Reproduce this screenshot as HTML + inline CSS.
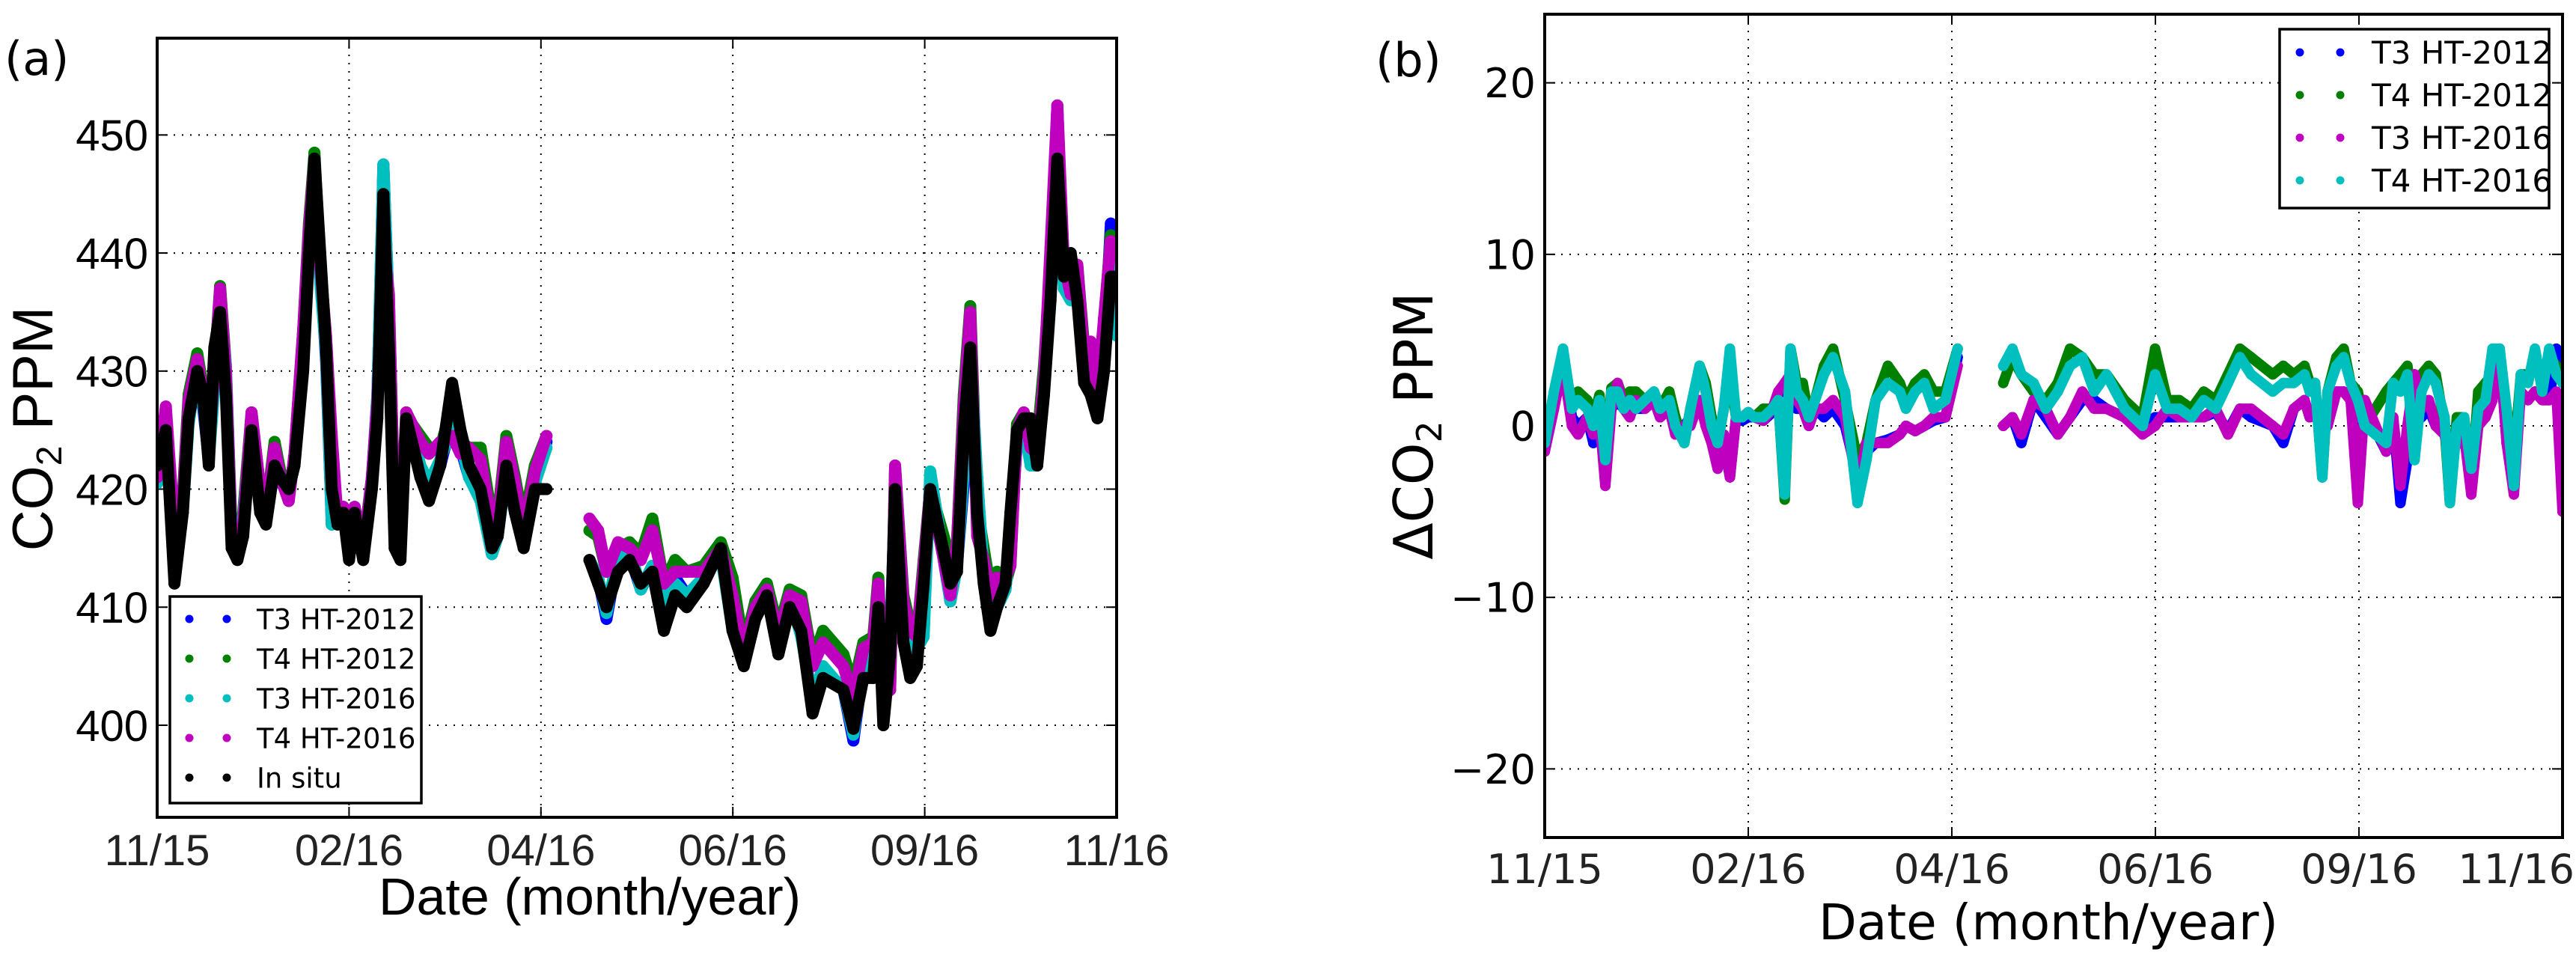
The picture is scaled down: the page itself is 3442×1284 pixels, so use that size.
<!DOCTYPE html>
<html><head><meta charset="utf-8"><style>
html,body{margin:0;padding:0;background:#fff;}
svg{display:block;}
</style></head><body>
<svg id="fig" width="3442" height="1284" viewBox="0 0 3442 1284" xmlns="http://www.w3.org/2000/svg">
<defs>
<clipPath id="clipA"><rect x="210" y="51" width="1282" height="1041"/></clipPath>
<clipPath id="clipB"><rect x="2064" y="19" width="1360" height="1100"/></clipPath>
</defs>
<g id="gA"></g>
<g id="gB"></g>
</svg>
<script>
// ---- data (days since 2015-11-01) ----
const days = [0,3.3,6.6,9.8,12,15.3,17.5,19.7,21.8,24,26.2,28.4,30.6,32.8,36,39.3,41.5,44.8,47,50.2,52.4,55.7,57.9,60,62.2,64.4,66.6,68.8,71,73.2,75.3,78.6,81.9,84,86.3,88.4,90.6,92.8,95,97.2,100.4,103.7,108,112.5,115.7,119,123.4,127.7,129.9,133.2,136.5,139.8,144.1,148.5,164.9,168.2,171.4,175.8,180.2,184.5,188.9,193.3,197.6,202,208.5,215,219.5,223.8,228.2,232.6,237,241.3,245.7,250,254,261.8,265.6,269.4,273.2,275.1,277,279.6,281.5,284.7,287.3,289.8,292.4,294.9,302.6,305.1,307.7,310.2,312.8,315.3,317.9,320.4,323.6,325.5,328,330.6,333.2,335.7,338.3,340.8,343.4,345.9,348.5,351,353.6,356.1,358.7,361.2,363.8,366];
const inSitu = [422,425,412,418,426,430,428,422,432,435,428,415,414,416,425,418,417,422,421,420,422,430,440,448,440,432,420,417,418,414,418,414,420,426,445,432,415,414,426,424,421,419,422,429,425,422,420,415,416,422,418,415,420,420,414,412,410,413,414,412,413,408,411,410,412,415,408,405,409,411,406,410,408,401,404,403,399.7,404,404,410,400,406,420,407,404,405,412,420,412,413,425,432,418,412,408,410,412,418,425,426,426,422,428,436,448,438,440,436,429,428,426,430,438,438];
const dT4_2016 = [-1,2,4.5,1,1.5,1,0,1.5,-2,2,2,1,1.5,1,1.5,2,1,1.5,0,-1,1,3.5,2,0,-1,1,4.5,0.5,0.5,0.8,0.5,0.5,1,1.5,-4,4.5,2,1.5,0.5,1.5,3,4,2,-4.5,-2,1.5,2.5,2,1,2,2.5,1,1.5,4.5,3.5,4.5,3,2.5,1,2,3.5,4,2,3,1,0,3,1,1,0.5,1.5,1,2.5,4,3,2,2.5,2.5,3,2,2.5,-3,2,3.5,4,2.5,1.5,0,-1,2.5,2,3,-2,2,3,2.5,0.5,-4.5,0,0.5,-2.5,1,1.5,4.5,4.5,1,-3.5,3,2.5,4.5,2,4.5,3,2.5];
const dT4_2012 = [-0.5,1.5,3.5,1.5,2,1.5,0.5,1.8,-2,2.2,2.5,1.5,2,2,1.5,2,1,2,0.5,-1,1,3.5,2.5,0.5,-1,1,3,0.5,0.5,0.8,0.5,1,1,1.5,-4.3,4.5,2.5,2.5,0.5,1.5,3.5,4.5,1.5,-2,-1,1.5,3.5,2.5,1.5,2.5,3,2,2,4.5,2.5,4,3,2,1.5,2.5,4.5,4,3,3,1.5,0.5,4.5,1.5,1.5,1,2,1.5,3,4.5,4,3,3.5,3,3.5,2.5,2.5,-3,2,4,4.5,2.5,2,0,2,2.5,3,3.5,0.5,3,3.5,3,0,-4.5,0.5,0.5,-3.5,2,2.5,3,2.5,1,-2,3,3,3.5,3,4,3.5,3];
const dT3_2016 = [-1.5,1,3.5,0,-0.5,0.5,-0.5,0.5,-3.5,1,2.5,1,0.5,1.5,1,1.5,0.5,1,-0.5,0,0,1.5,0,-1,-2.5,-0.5,-3,0.5,0.5,0.8,0.5,0.3,1,2,2.5,3,1.5,1,0,1,1,1.5,0.5,-3.5,-1,-1,-1,-0.5,0,-0.3,0,0.5,0.5,3.5,0,0.5,-0.5,1.5,1,-0.5,0.5,2,1,1,0.5,-0.5,0,1,0.5,0.5,0.5,1,-0.5,1,1,0,-0.5,1,1.5,0.5,1,0.5,0,2,2,1.5,-4.5,1.5,-1.5,0.5,-3.5,0,3,1,1.5,0,-0.5,-2,-1,-0.5,-4,0,0.5,1.5,4.5,-1,-4,2,1.5,2,1.5,1.5,2,-5];
const dT3_2012 = [-1.5,1,4,0.5,0,0.5,-1,0.5,-1,1,1.5,1,1,1,1,1.5,0.5,1,0,0,0.5,1,0.5,-0.5,-1.5,-1,-3,0.5,0.3,0.5,0.5,0.3,0.8,1.8,2.5,3,1,1,0,1,0.5,1,0,-3,-1.5,-1,-0.8,-0.5,0,-0.3,0,0.3,0.5,4,0,0.5,-1,1.5,0.5,-0.5,0.5,1.5,1.5,1,0.5,0,0.5,0.5,0.5,0.5,0.5,0.8,-0.3,1,0.5,0,-1,1,1.5,0.5,1,0.5,0,2,2,1.5,-3,1,-1.5,0.5,-4.5,-2,3,0.5,1,0,-0.5,-2,-1,-0.5,-2.5,0.5,0.5,1.5,4.5,-1,-3,2,1.5,2,1.5,1.5,4.5,3];
const xTickLabels = ["11/15","02/16","04/16","06/16","09/16","11/16"];
const yTicksA = [400,410,420,430,440,450];
const yTicksB = [-20,-10,0,10,20];

const NS = "http://www.w3.org/2000/svg";
function mk(tag, attrs, parent){const e=document.createElementNS(NS,tag);for(const k in attrs)e.setAttribute(k,attrs[k]);parent.appendChild(e);return e;}

const A = {x0:210,x1:1492,y0:51,y1:1092,vmin:392.2,vmax:458.2};
const B = {x0:2064,x1:3424,y0:19,y1:1119,vmin:-24,vmax:24};
const DMAX = 366;
function sx(P,d){return P.x0+(d/DMAX)*(P.x1-P.x0);}
function sy(P,v){return P.y1-(v-P.vmin)/(P.vmax-P.vmin)*(P.y1-P.y0);}

function drawSeries(g,P,vals,color,r,name){
  const sg=mk('g',{},g);
  
  
  let seg=[];
  const segs=[];
  for(let i=0;i<days.length;i++){
    if(i>0 && days[i]-days[i-1]>10){segs.push(seg);seg=[];}
    seg.push([sx(P,days[i]),sy(P,vals[i])]);
  }
  segs.push(seg);
  segs.forEach(s=>{
    const pl=mk('polyline',{points:s.map(p=>p[0].toFixed(1)+','+p[1].toFixed(1)).join(' '),fill:'none',stroke:color,'stroke-width':r*2,'stroke-linejoin':'round','stroke-linecap':'round'},sg);
    
    
  });
  for(let i=0;i<days.length;i++){
    const c=mk('circle',{cx:sx(P,days[i]).toFixed(1),cy:sy(P,vals[i]).toFixed(1),r:r,fill:color},sg);
    
    
  }
}

function axes(g,P,yTicks,tickFont,xlabBase,ylabFmt){
  for(let i=0;i<xTickLabels.length;i++){
    const x=P.x0+i*(P.x1-P.x0)/(xTickLabels.length-1);
    const gl=mk('line',{x1:x,x2:x,y1:P.y0,y2:P.y1,stroke:'#000','stroke-width':2,'stroke-dasharray':'2,9'},g);
    
    
    mk('line',{x1:x,x2:x,y1:P.y1,y2:P.y1-14,stroke:'#000','stroke-width':2},g);
    mk('line',{x1:x,x2:x,y1:P.y0,y2:P.y0+14,stroke:'#000','stroke-width':2},g);
    let tx=x, anchor='middle';
    if(i===xTickLabels.length-1 && x+75>3440){tx=3440;anchor='end';}
    const t=mk('text',{x:tx,y:xlabBase,'text-anchor':anchor,'font-size':tickFont.size,'font-family':tickFont.fam,fill:'#222'},g);
    t.textContent=xTickLabels[i];
    
    
  }
  yTicks.forEach(v=>{
    const y=sy(P,v);
    const gl=mk('line',{x1:P.x0,x2:P.x1,y1:y,y2:y,stroke:'#000','stroke-width':2,'stroke-dasharray':'2,9'},g);
    
    
    mk('line',{x1:P.x0,x2:P.x0+14,y1:y,y2:y,stroke:'#000','stroke-width':2},g);
    mk('line',{x1:P.x1,x2:P.x1-14,y1:y,y2:y,stroke:'#000','stroke-width':2},g);
    const t=mk('text',{x:P.x0-12,y:y+tickFont.size*0.36,'text-anchor':'end','font-size':tickFont.size,'font-family':tickFont.fam,fill:'#000'},g);
    t.textContent=ylabFmt(v);
    
    
  });
}

function frame(g,P){
  const r=mk('rect',{x:P.x0,y:P.y0,width:P.x1-P.x0,height:P.y1-P.y0,fill:'none',stroke:'#000','stroke-width':4},g);
  
  
}

function legend(g,box,rows,dotX,textX,fs){
  const lg=mk('g',{},g);
  
  
  mk('rect',{x:box[0],y:box[1],width:box[2]-box[0],height:box[3]-box[1],fill:'#fff',stroke:'#000','stroke-width':3.5},lg);
  rows.forEach(rw=>{
    const eg=mk('g',{},lg);
    
    
    dotX.forEach(dx=>mk('circle',{cx:dx,cy:rw.y,r:5.5,fill:rw.c},eg));
    const t=mk('text',{x:textX,y:rw.y+fs*0.36,'font-size':fs,'font-family':'"DejaVu Sans", sans-serif',fill:'#000'},eg);
    t.textContent=rw.label;
  });
}

// ---- panel A ----
const gA=document.getElementById('gA');
axes(gA,A,yTicksA,{size:58,fam:'"Liberation Sans", Arial, sans-serif'},1156,v=>String(v));
const dataA=mk('g',{'clip-path':'url(#clipA)'},gA);


const a_T3_2012=inSitu.map((v,i)=>v+dT3_2012[i]);
const a_T4_2012=inSitu.map((v,i)=>v+dT4_2012[i]);
const a_T3_2016=inSitu.map((v,i)=>v+dT3_2016[i]);
const a_T4_2016=inSitu.map((v,i)=>v+dT4_2016[i]);
drawSeries(dataA,A,a_T3_2012,'#0000ff',8,'series-t3-ht-2012');
drawSeries(dataA,A,a_T4_2012,'#008000',8,'series-t4-ht-2012');
drawSeries(dataA,A,a_T3_2016,'#00bfbf',8,'series-t3-ht-2016');
drawSeries(dataA,A,a_T4_2016,'#bf00bf',8,'series-t4-ht-2016');
drawSeries(dataA,A,inSitu,'#000000',8,'series-in-situ');
frame(gA,A);
legend(gA,[227,797,563,1073],[
 {y:827,c:'#0000ff',label:'T3 HT-2012'},
 {y:880,c:'#008000',label:'T4 HT-2012'},
 {y:933,c:'#00bfbf',label:'T3 HT-2016'},
 {y:986,c:'#bf00bf',label:'T4 HT-2016'},
 {y:1039,c:'#000000',label:'In situ'}],[253,303],343,37);

// ---- panel B ----
const gB=document.getElementById('gB');
axes(gB,B,yTicksB,{size:54,fam:'"DejaVu Sans", sans-serif'},1180,v=>v<0?'\u2212'+Math.abs(v):String(v));
const dataB=mk('g',{'clip-path':'url(#clipB)'},gB);


drawSeries(dataB,B,dT3_2012,'#0000ff',7,'delta-t3-ht-2012');
drawSeries(dataB,B,dT4_2012,'#008000',7,'delta-t4-ht-2012');
drawSeries(dataB,B,dT3_2016,'#bf00bf',7,'delta-t3-ht-2016');
drawSeries(dataB,B,dT4_2016,'#00bfbf',7,'delta-t4-ht-2016');
frame(gB,B);
legend(gB,[3046,39,3406,278],[
 {y:70,c:'#0000ff',label:'T3 HT-2012'},
 {y:127,c:'#008000',label:'T4 HT-2012'},
 {y:184,c:'#bf00bf',label:'T3 HT-2016'},
 {y:241,c:'#00bfbf',label:'T4 HT-2016'}],[3073,3127],3169,42);

// ---- titles ----
const fig=document.getElementById('fig');
function txt(attrs,content,name){
  const t=document.createElementNS(NS,'text');
  for(const k in attrs)t.setAttribute(k,attrs[k]);
  t.innerHTML=content;
  
  
  fig.appendChild(t);
}
txt({x:6,y:100,'font-size':62,'font-family':'"DejaVu Sans", sans-serif'},'(a)','panel-label-a');
txt({x:1838,y:102,'font-size':62,'font-family':'"DejaVu Sans", sans-serif'},'(b)','panel-label-b');
txt({x:788,y:1222,'text-anchor':'middle','font-size':70,'font-family':'"Liberation Sans", Arial, sans-serif'},'Date (month/year)','x-axis-title-a');
txt({x:2737,y:1255,'text-anchor':'middle','font-size':66,'font-family':'"DejaVu Sans", sans-serif'},'Date (month/year)','x-axis-title-b');
txt({x:0,y:0,'text-anchor':'middle','font-size':76,'font-family':'"Liberation Sans", Arial, sans-serif',transform:'translate(70,573) rotate(-90)'},'CO<tspan baseline-shift="-25%" font-size="48">2</tspan>  PPM','y-axis-title-a');
txt({x:0,y:0,'text-anchor':'middle','font-size':72,'font-family':'"DejaVu Sans", sans-serif',transform:'translate(1914,569) rotate(-90)'},'\u0394CO<tspan baseline-shift="-25%" font-size="46">2</tspan>  PPM','y-axis-title-b');
</script>
</body></html>
